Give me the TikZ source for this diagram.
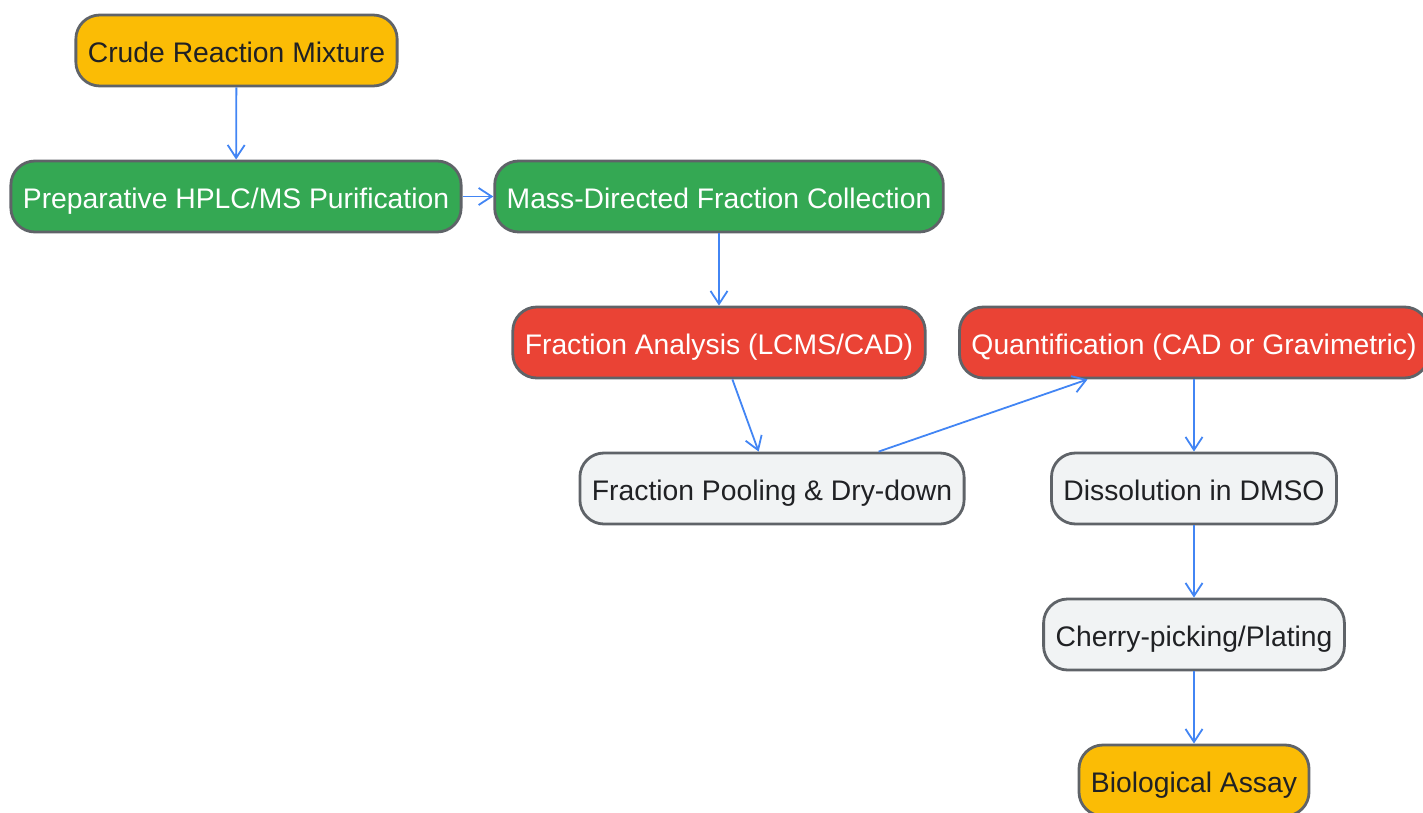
\documentclass[tikz,border=0pt]{standalone}
\usepackage{fontspec}
\setmainfont{Liberation Sans}
\usetikzlibrary{arrows.meta}
\definecolor{flowyellow}{HTML}{FBBC05}
\definecolor{flowgreen}{HTML}{34A853}
\definecolor{flowred}{HTML}{EA4335}
\definecolor{flowgrey}{HTML}{F1F3F4}
\definecolor{flowborder}{HTML}{5F6368}
\definecolor{flowtext}{HTML}{202124}
\definecolor{flowblue}{HTML}{4285F4}
\tikzset{
  stage/.style={draw=flowborder, line width=2.8pt, rounded corners=24pt,
    minimum height=71pt, inner xsep=12pt, text height=23.6pt, text depth=0pt,
    font=\fontsize{28.3}{34}\selectfont},
  yellowstage/.style={stage, fill=flowyellow, text=flowtext},
  greenstage/.style={stage, fill=flowgreen, text=white},
  redstage/.style={stage, fill=flowred, text=white},
  greystage/.style={stage, fill=flowgrey, text=flowtext},
  flow/.style={draw=flowblue, line width=1.8pt,
    -{Straight Barb[length=13pt,width=17pt]}}
}
\begin{document}
\begin{tikzpicture}[x=1pt,y=-1pt]
      \clip (0,0) rectangle (1423,813);
      \draw
        (236.5,50.5) node[yellowstage] (crude){Crude Reaction Mixture}
        (236,196.5) node[greenstage] (prep){Preparative HPLC/MS Purification}
        (719,196.5) node[greenstage] (collect){Mass-Directed Fraction Collection}
        (719,342.5) node[redstage] (analysis){Fraction Analysis (LCMS/CAD)}
        (1194,342.5) node[redstage] (quant){Quantification (CAD or Gravimetric)}
        (772,488.5) node[greystage] (pool){Fraction Pooling \& Dry-down}
        (1194,488.5) node[greystage] (dmso){Dissolution in DMSO}
        (1194,634.5) node[greystage] (plate){Cherry-picking/Plating}
        (1194,780.5) node[yellowstage] (assay){Biological Assay};
      \begin{scope}[flow]
        \draw (crude) to (prep);
        \draw (prep) to (collect);
        \draw (collect) to (analysis);
        \draw (analysis) to (pool);
        \draw (pool) to (quant);
        \draw (quant) to (dmso);
        \draw (dmso) to (plate);
        \draw (plate) to (assay);
      \end{scope}
    \end{tikzpicture}
\end{document}
